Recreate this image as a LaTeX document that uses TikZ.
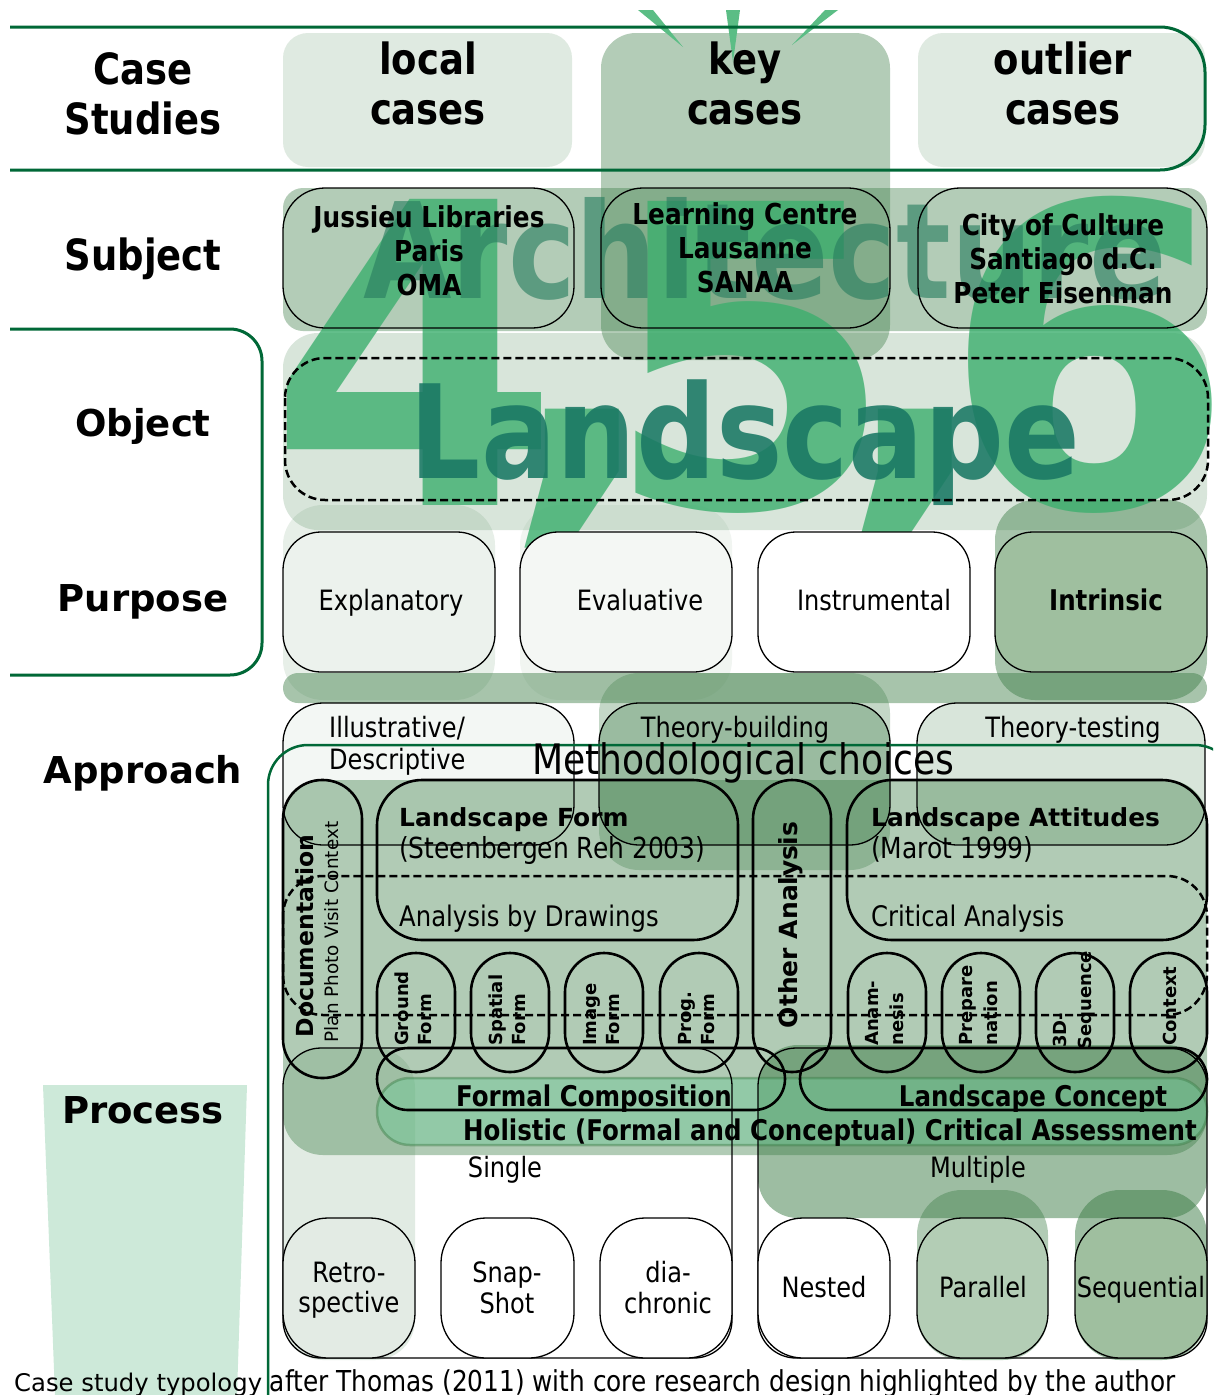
\documentclass[tikz,border=0pt]{standalone}
\usepackage{fontspec}
\setmainfont{DejaVu Sans}
\newfontfamily\tf[FakeStretch=0.86]{DejaVu Sans}
\newcommand\fsz[2]{\fontsize{#1pt}{#2pt}\selectfont}
\definecolor{dkg}{RGB}{0,104,55}
\definecolor{gc}{RGB}{60,125,70}
\definecolor{raygreen}{RGB}{91,189,133}
\definecolor{digitg}{RGB}{60,175,110}
\definecolor{archg}{RGB}{40,125,95}
\definecolor{landg}{RGB}{25,120,100}
\definecolor{procg}{RGB}{205,233,217}
\definecolor{holig}{RGB}{110,200,150}
\definecolor{fExp}{RGB}{236,242,237}
\definecolor{fEva}{RGB}{244,247,244}
\definecolor{fInt}{RGB}{159,191,159}
\definecolor{fRet}{RGB}{227,235,228}
\definecolor{fPar}{RGB}{179,205,181}
\begin{document}
\begin{tikzpicture}[x=1pt,y=-1pt,
  every node/.style={inner sep=0pt},
  grn/.style={draw=dkg,line width=3pt},
  bx/.style={draw=black,line width=1.3pt},
  pl/.style={draw=black,line width=2.6pt},
  sh/.style={fill=gc,fill opacity=#1},
  hd/.style={font=\fsz{37}{44}\bfseries,anchor=base},
  ch/.style={font=\tf\fsz{43}{50}\bfseries,anchor=base},
  sb/.style={font=\tf\fsz{28.8}{34}\bfseries,anchor=base},
  rg/.style={font=\tf\fsz{28}{34},anchor=base},
  rgw/.style={font=\tf\fsz{28}{34},anchor=base west},
  bd/.style={font=\tf\fsz{28.5}{34}\bfseries,anchor=base},
  vb/.style={font=\fsz{24.9}{30}\bfseries,anchor=base west},
  vr/.style={font=\tf\fsz{29}{34},anchor=base west},
  spl/.style={font=\fsz{18}{22}\bfseries,rotate=90,anchor=base west},
  dig/.style={font=\fsz{420}{420}\bfseries,text=digitg,text opacity=.8,anchor=base}]
\useasboundingbox (0,0) rectangle (1213,1395);
\clip (0,0) rectangle (1213,1395);
\fill[white] (0,0) rectangle (1213,1395);

% process trapezoid
\fill[procg] (43,1085) -- (247,1085) -- (237,1395) -- (55,1395) -- cycle;

% case studies row
\fill[sh=.16,rounded corners=25pt] (283,33) rectangle (572,167);
\fill[sh=.16,rounded corners=25pt] (918,33) rectangle (1205,167);
\fill[sh=.39,rounded corners=35pt] (601,33) rectangle (890,360);
\fill[raygreen] (638,10) -- (653,10) -- (683,47) -- cycle;
\fill[raygreen] (726,10) -- (740,10) -- (733,62) -- cycle;
\fill[raygreen] (825,10) -- (838,10) -- (792,45) -- cycle;
\draw[grn,rounded corners=45pt] (10,27) -- (1205,27) -- (1205,170) -- (10,170);

% subject band, landscape band, purpose shades
\fill[sh=.39,rounded corners=20pt] (283,188) rectangle (1207,331);
\fill[sh=.2,rounded corners=35pt] (283,333) rectangle (1207,530);
\fill[sh=.12,rounded corners=40pt] (283,505) rectangle (495,700);
\fill[sh=.07,rounded corners=40pt] (520,505) rectangle (732,700);
\fill[sh=.45,rounded corners=40pt] (995,500) rectangle (1207,700);

% big digits and words
\node[dig] (d4) at (415,505) {4};
\node[dig] (cm1) at (582,488) {,};
\node[dig] (d5) at (750,507) {5};
\node[dig] (cm2) at (915,488) {,};
\node[dig] (d6) at (1089,507) {6};
\node[font=\tf\fsz{133}{133}\bfseries,text=archg,text opacity=.62,anchor=base] (arch) at (765,298) {Architecture};
\node[font=\tf\fsz{130}{130}\bfseries,text=landg,text opacity=.88,anchor=base] (lands) at (745,478) {Landscape};

% subject boxes
\draw[bx,rounded corners=42pt] (283,188) rectangle (574,328);
\draw[bx,rounded corners=42pt] (601,188) rectangle (890,328);
\draw[bx,rounded corners=42pt] (918,188) rectangle (1207,328);
\node[sb] (s1a) at (429,227) {Jussieu Libraries};
\node[sb] (s1b) at (429,261) {Paris};
\node[sb] (s1c) at (429,295) {OMA};
\node[sb] (s2a) at (745,224) {Learning Centre};
\node[sb] (s2b) at (745,258) {Lausanne};
\node[sb] (s2c) at (745,292) {SANAA};
\node[sb] (s3a) at (1063,235) {City of Culture};
\node[sb] (s3b) at (1063,269) {Santiago d.C.};
\node[sb] (s3c) at (1063,303) {Peter Eisenman};

% landscape dashed
\draw[line width=2.5pt,dash pattern=on 8pt off 4pt,rounded corners=40pt] (285,358) rectangle (1208,500);

% object bracket
\draw[grn,rounded corners=32pt] (10,329) -- (262,329) -- (262,675) -- (10,675);

% purpose boxes
\draw[bx,fill=fExp,rounded corners=38pt] (283,532) rectangle (495,672);
\draw[bx,fill=fEva,rounded corners=38pt] (520,532) rectangle (732,672);
\draw[bx,fill=white,rounded corners=38pt] (758,532) rectangle (970,672);
\draw[bx,fill=fInt,rounded corners=38pt] (995,532) rectangle (1207,672);
\node[rg] (pexp) at (391,610) {Explanatory};
\node[rg] (peva) at (640,610) {Evaluative};
\node[rg] (pins) at (874,610) {Instrumental};
\node[bd] (pint) at (1106,610) {Intrinsic};

% approach
\fill[sh=.45,rounded corners=15pt] (283,673) rectangle (1207,703);
\fill[sh=.3,rounded corners=40pt] (599,673) rectangle (890,870);
\fill[sh=.06,rounded corners=40pt] (283,703) rectangle (574,845);
\fill[sh=.3,rounded corners=40pt] (599,703) rectangle (890,845);
\fill[sh=.2,rounded corners=40pt] (917,703) rectangle (1205,845);

% analysis region and process shades
\fill[sh=.4,rounded corners=40pt] (283,780) rectangle (1207,1155);
\fill[sh=.15,rounded corners=40pt] (283,1048) rectangle (415,1360);
\fill[sh=.5,rounded corners=40pt] (758,1045) rectangle (1207,1218);
\fill[sh=.4,rounded corners=45pt] (917,1190) rectangle (1048,1360);
\fill[sh=.5,rounded corners=45pt] (1075,1190) rectangle (1207,1360);

% approach box borders and texts
\draw[bx,rounded corners=40pt] (283,703) rectangle (574,845);
\draw[bx,rounded corners=40pt] (599,703) rectangle (890,845);
\draw[bx,rounded corners=40pt] (917,703) rectangle (1205,845);
\node[rgw] (ap1) at (329,737) {Illustrative/};
\node[rgw] (ap2) at (329,769) {Descriptive};
\node[rg] (ap3) at (735,737) {Theory-building};
\node[rg] (ap4) at (1073,737) {Theory-testing};

% holistic band
\draw[fill=holig,fill opacity=.45,draw=gc,draw opacity=.45,line width=2.5pt,rounded corners=33pt] (377,1078) rectangle (1207,1145);

% dashed analysis frame
\draw[line width=2.5pt,dash pattern=on 8pt off 4pt,rounded corners=40pt] (283,876) rectangle (1207,1015);

% pills
\draw[pl,rounded corners=39pt] (283,780) rectangle (362,1078);
\draw[pl,rounded corners=45pt] (377,780) rectangle (738,940);
\draw[pl,rounded corners=39pt] (753,780) rectangle (831,1072);
\draw[pl,rounded corners=45pt] (847,780) rectangle (1207,940);
\foreach \xa/\xb in {377/455,471/549,565/643,660/738,848/926,942/1020,1036/1114,1130/1207}
  \draw[pl,rounded corners=39pt] (\xa,953) rectangle (\xb,1072);
\draw[pl,rounded corners=31pt] (377,1048) rectangle (785,1110);
\draw[pl,rounded corners=31pt] (800,1048) rectangle (1207,1110);

\node[font=\fsz{23.5}{28}\bfseries,rotate=90,anchor=base] (doc) at (313,936) {Documentation};
\node[font=\fsz{18.4}{22},rotate=90,anchor=base] (docs) at (338,932) {Plan Photo Visit Context};
\node[font=\fsz{25}{30}\bfseries,rotate=90,anchor=base] (oth) at (797,925) {Other Analysis};
\node[vb] (lf1) at (399,826) {Landscape Form};
\node[vr] (lf2) at (399,858) {(Steenbergen Reh 2003)};
\node[font=\tf\fsz{28.3}{32},anchor=base west] (lf3) at (399,926) {Analysis by Drawings};
\node[vb] (la1) at (871,826) {Landscape Attitudes};
\node[vr] (la2) at (871,858) {(Marot 1999)};
\node[font=\tf\fsz{28.3}{32},anchor=base west] (la3) at (871,926) {Critical Analysis};

\node[spl] (g1) at (408,1046) {Ground};
\node[spl] (g2) at (431,1046) {Form};
\node[spl] (sp1) at (502,1046) {Spatial};
\node[spl] (sp2) at (525,1046) {Form};
\node[spl] (im1) at (596,1046) {Image};
\node[spl] (im2) at (619,1046) {Form};
\node[spl] (pg1) at (691,1046) {Prog.};
\node[spl] (pg2) at (714,1046) {Form};
\node[spl] (an1) at (878,1046) {Anam-};
\node[spl] (an2) at (903,1046) {nesis};
\node[spl] (pr1) at (972,1046) {Prepare};
\node[spl] (pr2) at (997,1046) {nation};
\node[spl] (sq1) at (1066,1048) {3D-};
\node[spl] (sq2) at (1091,1050) {Sequence};
\node[spl] (cx1) at (1176,1046) {Context};

\node[bd] (fc) at (594,1106) {Formal Composition};
\node[bd] (lc) at (1033,1106) {Landscape Concept};
\node[bd] (hol) at (830,1140) {Holistic (Formal and Conceptual) Critical Assessment};

% single / multiple
\draw[bx,rounded corners=38pt] (283,1048) rectangle (732,1358);
\draw[bx,rounded corners=38pt] (758,1048) rectangle (1207,1358);
\node[rg] (sgl) at (505,1177) {Single};
\node[rg] (mlt) at (978,1177) {Multiple};

\draw[bx,fill=fRet,rounded corners=45pt] (283,1218) rectangle (415,1358);
\draw[bx,fill=white,rounded corners=45pt] (441,1218) rectangle (574,1358);
\draw[bx,fill=white,rounded corners=45pt] (600,1218) rectangle (732,1358);
\draw[bx,fill=white,rounded corners=45pt] (758,1218) rectangle (890,1358);
\draw[bx,fill=fPar,rounded corners=45pt] (917,1218) rectangle (1048,1358);
\draw[bx,fill=fInt,rounded corners=45pt] (1075,1218) rectangle (1207,1358);
\node[rg] (r1) at (349,1282) {Retro-};
\node[rg] (r2) at (349,1312) {spective};
\node[rg] (sn1) at (507,1282) {Snap-};
\node[rg] (sn2) at (507,1313) {Shot};
\node[rg] (di1) at (668,1282) {dia-};
\node[rg] (di2) at (668,1313) {chronic};
\node[rg] (ne) at (824,1297) {Nested};
\node[rg] (pa) at (983,1297) {Parallel};
\node[rg] (se) at (1141,1297) {Sequential};

% methodological frame
\draw[dkg,line width=2.5pt,rounded corners=40pt] (268,1420) -- (268,745) -- (1235,745) -- (1235,1420);
\node[font=\tf\fsz{42}{50},anchor=base] (meth) at (743,774) {Methodological choices};

% headers
\node[ch] (cs1) at (143,84) {Case};
\node[ch] (cs2) at (143,134) {Studies};
\node[ch] (lo1) at (428,74) {local};
\node[ch] (lo2) at (428,124) {cases};
\node[ch] (ke1) at (745,74) {key};
\node[ch] (ke2) at (745,124) {cases};
\node[ch] (ou1) at (1063,74) {outlier};
\node[ch] (ou2) at (1063,124) {cases};
\node[ch] (subj) at (143,270) {Subject};
\node[hd] (obj) at (143,436) {Object};
\node[hd] (purp) at (143,611) {Purpose};
\node[hd] (appr) at (143,783) {Approach};
\node[hd] (proc) at (143,1123) {Process};

% caption
\node[anchor=base west] (cap) at (14,1391) {\fsz{24.3}{28}Case study typology \tf\fsz{28.8}{32}after Thomas (2011) with core research design highlighted by the author};
\end{tikzpicture}
\end{document}
